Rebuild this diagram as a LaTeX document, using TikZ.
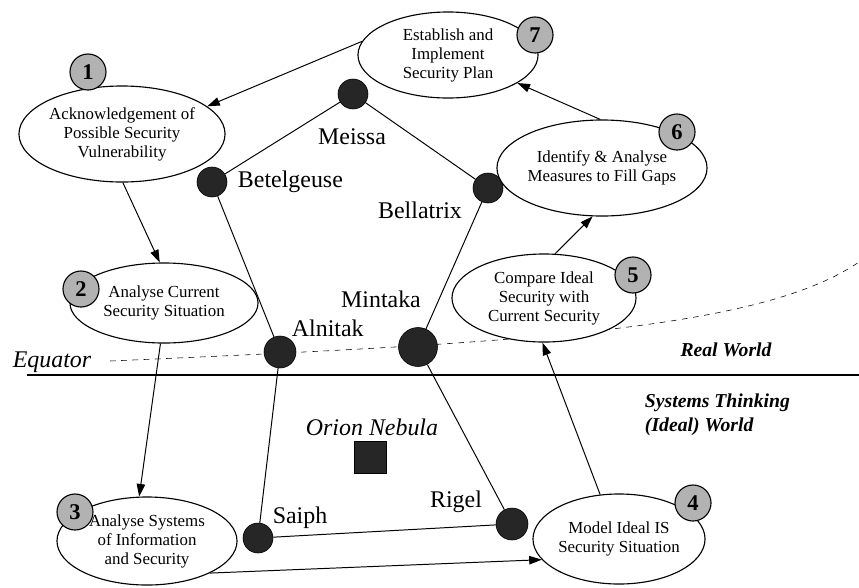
\documentclass[tikz,border=0pt]{standalone}
\usepackage{fontspec}
\setmainfont{Liberation Serif}
\usetikzlibrary{shapes,arrows.meta,positioning}

\begin{document}
\begin{tikzpicture}[x=0.025cm, y=-0.025cm,
    stage/.style={draw, ellipse, fill=white, line width=0.8pt, align=center, inner sep=0pt, font=\fontsize{12}{13.5}\selectfont},
    badge/.style={draw, circle, fill=black!30, line width=0.8pt, minimum size=9mm, inner sep=0pt, font=\fontsize{16}{16}\selectfont\bfseries},
    star/.style={draw, circle, fill=black!85, minimum size=7.5mm, inner sep=0pt},
    starname/.style={font=\fontsize{17}{17}\selectfont},
    flow/.style={-{Triangle[length=9pt,width=6pt]}, line width=0.7pt},
    link/.style={line width=0.7pt}]

    \useasboundingbox (0,0) rectangle (859,587);

    % equator and the line between the two worlds
    \coordinate (eqstart) at (110,361);
    \coordinate (eqend) at (859,262);
    \draw[dash pattern=on 4pt off 4pt, line width=0.4pt] (eqstart) .. controls (520,343) and (760,330) .. (eqend);
    \coordinate (divleft) at (27,375);
    \coordinate (divright) at (859,375);
    \draw[line width=0.8pt] (divleft) -- (divright);

    \node[font=\fontsize{17}{17}\selectfont\itshape] (equator) at (52,362) {Equator};
    \node[font=\fontsize{14}{14}\selectfont\bfseries\itshape] (real) at (726,350) {Real World};
    \node[anchor=west, align=left, font=\fontsize{14}{17}\selectfont\bfseries\itshape] (ideal) at (640,415) {Systems Thinking\\(Ideal) World};

    % stars of Orion
    \node[star] (meissa) at (353,94) {};
    \node[star] (betelgeuse) at (212,182) {};
    \node[star] (bellatrix) at (488,188) {};
    \node[star, minimum size=8mm] (alnitak) at (280,352) {};
    \node[star, minimum size=9.75mm] (mintaka) at (418,347) {};
    \node[star] (saiph) at (258,538) {};
    \node[star, minimum size=8mm] (rigel) at (512,524) {};
    \node[draw, fill=black!85, minimum size=8mm, inner sep=0pt] (nebula) at (370,457) {};

    \node[starname] at (352,137) {Meissa};
    \node[starname, anchor=west] at (233,182) {Betelgeuse};
    \node[starname] at (420,210) {Bellatrix};
    \node[starname] at (381,299) {Mintaka};
    \node[starname, anchor=west] at (287,328) {Alnitak};
    \node[starname] at (300,518) {Saiph};
    \node[starname] at (456,502) {Rigel};
    \node[starname, font=\fontsize{17}{17}\selectfont\itshape] at (372,427) {Orion Nebula};

    \draw[link] (meissa) -- (betelgeuse);
    \draw[link] (meissa) -- (bellatrix);
    \draw[link] (betelgeuse) -- (alnitak);
    \draw[link] (bellatrix) -- (mintaka);
    \draw[link] (alnitak) -- (saiph);
    \draw[link] (mintaka) -- (rigel);
    \draw[link] (saiph) -- (rigel);

    % the seven stages
    \node[stage, minimum width=48mm, minimum height=24mm] (s1) at (122,134) {Acknowledgement of\\Possible Security\\Vulnerability};
    \node[stage, minimum width=47mm, minimum height=20mm] (s2) at (164,303) {Analyse Current\\Security Situation};
    \node[stage, minimum width=45mm, minimum height=22mm] (s3) at (147,541) {Analyse Systems\\of Information\\and Security};
    \node[stage, minimum width=43mm, minimum height=22.5mm] (s4) at (619,539) {Model Ideal IS\\Security Situation};
    \node[stage, minimum width=46mm, minimum height=22mm] (s5) at (544,298) {Compare Ideal\\Security with\\Current Security};
    \node[stage, minimum width=46.5mm, minimum height=24mm] (s6) at (602,168) {Identify \& Analyse\\Measures to Fill Gaps};
    \node[stage, minimum width=45mm, minimum height=21.5mm] (s7) at (448,55) {Establish and\\Implement\\Security Plan};

    \node[badge] (b1) at (88,72) {1};
    \node[badge] (b2) at (81,289) {2};
    \node[badge] (b3) at (75,512) {3};
    \node[badge] (b4) at (693,503) {4};
    \node[badge] (b5) at (633,275) {5};
    \node[badge] (b6) at (677,132) {6};
    \node[badge] (b7) at (535,35) {7};

    \draw[flow] (s7.171) -- (s1.18);
    \draw[flow] (s1.-89) -- (s2.96);
    \draw[flow] (s2.-95) -- (s3.100);
    \draw[flow] (s3.-27) -- (s4.195);
    \draw[flow] (s4.113) -- (s5.-92);
    \draw[flow] (s5.76) -- (s6.-101);
    \draw[flow] (s6.92) -- (s7.-22);
\end{tikzpicture}
\end{document}
